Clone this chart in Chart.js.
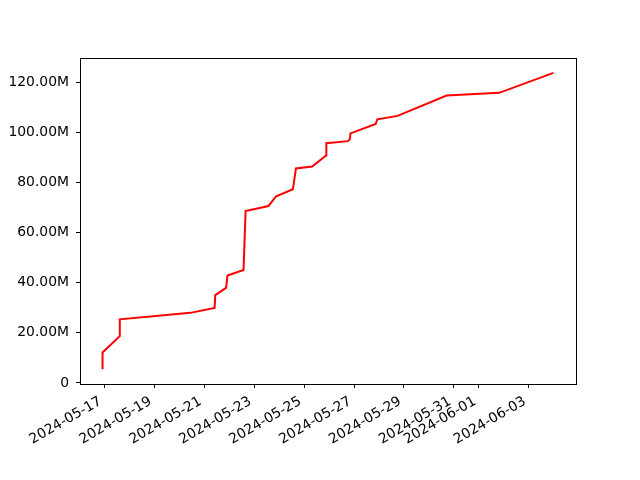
<!DOCTYPE html>
<html>
<head>
<meta charset="utf-8">
<script src="https://cdn.jsdelivr.net/npm/chart.js@4"></script>
<style>
  html, body { margin: 0; padding: 0; background: #fff; }
  #wrap { width: 640px; height: 480px; }
</style>
</head>
<body>
<div id="wrap"><canvas id="lineChart" width="640" height="480"></canvas></div>
<script>
// timestamps (UTC) of each point
const dates = [
    '2024-05-16T22:05', '2024-05-16T22:05', '2024-05-17T14:40', '2024-05-17T14:40',
    '2024-05-20T10:30', '2024-05-21T09:50', '2024-05-21T10:30', '2024-05-21T20:50',
    '2024-05-21T22:20', '2024-05-22T13:40', '2024-05-22T15:40', '2024-05-23T13:40',
    '2024-05-23T21:05', '2024-05-24T13:10', '2024-05-24T16:05', '2024-05-25T07:40',
    '2024-05-25T21:05', '2024-05-25T21:20', '2024-05-26T18:00', '2024-05-26T19:55',
    '2024-05-26T20:30', '2024-05-27T20:50', '2024-05-27T22:20', '2024-05-28T17:45',
    '2024-05-30T17:00', '2024-06-01T19:30', '2024-06-03T23:45'
];
// values in millions
const values = [
    5.5, 12.2, 18.7, 25.4, 28.0, 30.0, 35.1, 38.0,
    42.9, 45.1, 68.7, 70.7, 74.6, 77.4, 85.7, 86.5,
    90.9, 95.8, 96.6, 97.4, 99.7, 103.5, 105.3, 106.7,
    114.8, 115.9, 123.9
];
const xTickLabels = ['2024-05-17', '2024-05-19', '2024-05-21', '2024-05-23', '2024-05-25',
    '2024-05-27', '2024-05-29', '2024-05-31', '2024-06-01', '2024-06-03'];
const yTickValues = [0, 20, 40, 60, 80, 100, 120];

const xs = dates.map(d => Date.parse(d + 'Z'));
const ys = values.map(v => v * 1e6);
const points = xs.map((x, i) => ({ x: x, y: ys[i] }));

// matplotlib-like 5% margins
const xMin = Math.min(...xs), xMax = Math.max(...xs);
const yMin = Math.min(...ys), yMax = Math.max(...ys);
const xPad = (xMax - xMin) * 0.05, yPad = (yMax - yMin) * 0.05;

const font = { family: 'DejaVu Sans', size: 13.9 };

const framePlugin = {
    id: 'frame',
    afterDraw(chart) {
        const a = chart.chartArea, ctx = chart.ctx;
        ctx.save();
        ctx.strokeStyle = '#000';
        ctx.lineWidth = 1;
        ctx.strokeRect(Math.round(a.left) + 0.5, Math.round(a.top) + 0.5,
            Math.round(a.right - a.left), Math.round(a.bottom - a.top));
        ctx.restore();
    }
};

new Chart(document.getElementById('lineChart').getContext('2d'), {
    type: 'line',
    data: {
        datasets: [{
            data: points,
            borderColor: '#ff0000',
            borderWidth: 2,
            pointRadius: 0,
            tension: 0,
            fill: false
        }]
    },
    options: {
        responsive: false,
        animation: false,
        layout: { padding: { left: 0, top: 58, right: 64, bottom: 0 } },
        plugins: { legend: { display: false }, tooltip: { enabled: false } },
        scales: {
            x: {
                type: 'linear',
                min: xMin - xPad,
                max: xMax + xPad,
                afterBuildTicks: scale => {
                    scale.ticks = xTickLabels.map(l => ({ value: Date.parse(l + 'T00:00Z') }));
                },
                afterFit: scale => { scale.height = 96; },
                grid: { drawOnChartArea: false, drawTicks: true, tickLength: 4, color: '#000' },
                border: { display: true, color: '#000' },
                ticks: {
                    autoSkip: false,
                    minRotation: 30,
                    maxRotation: 30,
                    padding: 3,
                    color: '#000',
                    font: font,
                    callback: v => new Date(v).toISOString().slice(0, 10) + ' '
                }
            },
            y: {
                min: yMin - yPad,
                max: yMax + yPad,
                afterBuildTicks: scale => {
                    scale.ticks = yTickValues.map(v => ({ value: v * 1e6 }));
                },
                afterFit: scale => { scale.width = 80; },
                grid: { drawOnChartArea: false, drawTicks: true, tickLength: 4, color: '#000' },
                border: { display: true, color: '#000' },
                ticks: {
                    padding: 7,
                    color: '#000',
                    font: font,
                    callback: v => v === 0 ? '0' : (v / 1e6).toFixed(2) + 'M'
                }
            }
        }
    },
    plugins: [framePlugin]
});
</script>
</body>
</html>
